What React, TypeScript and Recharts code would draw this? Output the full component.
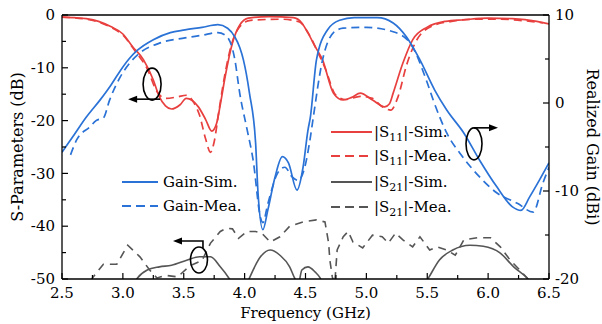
import React from 'react';
import { ComposedChart, Line, XAxis, YAxis, Legend, ReferenceDot } from 'recharts';

type Pt = [number, number];

// frequency (GHz), |S11| (dB)
const s11Sim: Pt[] = [
  [2.5, -0.4], [2.6, -0.5], [2.7, -0.7], [2.8, -1.2], [2.9, -2.2], [3.0, -3.6],
  [3.08, -6], [3.17, -8.5], [3.25, -12.3], [3.3, -15.5], [3.35, -17.2], [3.4, -17.8],
  [3.47, -17.0], [3.52, -15.8], [3.57, -16.2], [3.62, -17.4], [3.68, -19.8], [3.73, -22],
  [3.77, -20.5], [3.8, -17], [3.84, -11.7], [3.9, -5.3], [3.96, -1.9], [4.03, -0.6],
  [4.2, -0.3], [4.4, -0.5], [4.47, -1.5], [4.52, -3.4], [4.58, -6], [4.64, -8.5],
  [4.73, -14.8], [4.81, -16.1], [4.88, -15.6], [4.95, -14.8], [5.05, -16.1], [5.15, -17.4],
  [5.19, -16.8], [5.22, -14.8], [5.3, -9.1], [5.38, -4.7], [5.5, -2.3], [5.65, -1.2],
  [5.8, -0.9], [6.0, -0.6], [6.2, -0.7], [6.4, -1.2], [6.5, -1.7],
];

const s11Mea: Pt[] = [
  [2.5, -0.4], [2.7, -0.8], [2.9, -2.3], [3.0, -3.8], [3.1, -6.8], [3.2, -10.2],
  [3.28, -14.5], [3.35, -15.8], [3.45, -15.5], [3.52, -15.2], [3.58, -16.5], [3.63, -19],
  [3.68, -23.5], [3.72, -26], [3.75, -24], [3.79, -18], [3.84, -11], [3.9, -5],
  [3.96, -2.2], [4.05, -1], [4.3, -0.8], [4.45, -1.3], [4.52, -3.3], [4.6, -7],
  [4.66, -10], [4.75, -15.2], [4.83, -16], [4.95, -15.4], [5.05, -15.8], [5.12, -17.2],
  [5.2, -18], [5.26, -15.5], [5.33, -9.5], [5.42, -4.5], [5.55, -2], [5.7, -1.2],
  [5.9, -0.8], [6.1, -0.8], [6.3, -1.1], [6.45, -1.5],
];

// frequency (GHz), |S21| (dB)
const s21Sim: Pt[] = [
  [3.05, -53], [3.12, -49.8], [3.2, -48.3], [3.3, -47.7], [3.4, -47.4], [3.53, -46.4],
  [3.63, -45.8], [3.72, -45.8], [3.8, -47.7], [3.87, -49.8], [3.95, -53], [4.0, -52],
  [4.04, -49.8], [4.13, -45.8], [4.21, -44.5], [4.29, -45.5], [4.37, -47.7], [4.41, -49.8],
  [4.44, -51], [4.47, -48.3], [4.52, -47.7], [4.58, -48.7], [4.62, -49.8], [4.66, -52],
  [5.0, -58], [5.45, -52], [5.51, -49.8], [5.6, -46.4], [5.71, -44.5], [5.85, -43.6],
  [5.96, -43.8], [6.1, -45.1], [6.21, -47.7], [6.32, -49.8], [6.4, -52],
];

const s21Mea: Pt[] = [
  [2.7, -53], [2.75, -49.8], [2.84, -47.2], [2.95, -47.2], [3.04, -43.6], [3.14, -45.8],
  [3.22, -48.3], [3.28, -49.8], [3.35, -49.3], [3.45, -49.6], [3.55, -47.5], [3.65, -46.5],
  [3.72, -43.2], [3.8, -41], [3.85, -40.4], [3.9, -40.5], [3.95, -42.3], [4.02, -41],
  [4.09, -41], [4.14, -41.3], [4.21, -43], [4.29, -42], [4.37, -40], [4.48, -39.2],
  [4.59, -38.8], [4.66, -39.2], [4.69, -43.2], [4.7, -46.4], [4.72, -49.6], [4.74, -51],
  [4.76, -44.5], [4.81, -42], [4.85, -41], [4.89, -43], [4.97, -44.1], [5.05, -41.7],
  [5.13, -42], [5.18, -43.2], [5.24, -41.3], [5.3, -42.6], [5.38, -43.9], [5.44, -42],
  [5.52, -44.5], [5.58, -43.9], [5.66, -44.5], [5.73, -45.5], [5.8, -42.6], [5.91, -42.2],
  [6.02, -42.2], [6.1, -43.9], [6.18, -46.4], [6.26, -48.3], [6.32, -49.8], [6.36, -52],
];

// frequency (GHz), realized gain (dBi)
const gainSim: Pt[] = [
  [2.5, -5.6], [2.6, -3.6], [2.7, -1.6], [2.81, 0.3], [2.9, 2.0], [2.98, 3.7],
  [3.05, 5.0], [3.12, 6.0], [3.25, 7.2], [3.39, 8.0], [3.51, 8.3], [3.65, 8.6],
  [3.78, 8.9], [3.86, 8.5], [3.92, 7.5], [3.96, 6.3], [3.99, 4.9], [4.04, 1.1],
  [4.09, -4.5], [4.11, -10.2], [4.15, -14.4], [4.19, -12.2], [4.25, -8.4], [4.31, -6.1],
  [4.36, -6.8], [4.43, -9.9], [4.48, -7.3], [4.52, -3.1], [4.54, -1.6], [4.59, 4.9],
  [4.68, 8.3], [4.78, 9.4], [4.9, 9.7], [5.09, 9.7], [5.22, 9.1], [5.33, 7.5],
  [5.44, 4.9], [5.56, 1.5], [5.66, -0.8], [5.8, -3.4], [5.93, -6.5], [6.07, -9.5],
  [6.2, -11.8], [6.27, -12.2], [6.34, -10.7], [6.42, -8.8], [6.5, -6.8],
];

const gainMea: Pt[] = [
  [2.57, -5.9], [2.62, -4.2], [2.73, -2.7], [2.78, -2.0], [2.84, -1.7], [2.89, 0.3],
  [2.98, 3.0], [3.06, 4.6], [3.14, 5.7], [3.3, 6.8], [3.51, 7.4], [3.65, 7.7],
  [3.78, 8.0], [3.85, 7.6], [3.92, 4.9], [3.96, 1.1], [4.02, -3], [4.07, -6.5],
  [4.13, -13], [4.15, -13.6], [4.19, -11.5], [4.27, -8.0], [4.33, -7.3], [4.39, -8.4],
  [4.44, -8.8], [4.49, -7.5], [4.54, -3.9], [4.56, -2], [4.64, 4.9], [4.73, 8.0],
  [4.81, 8.5], [5.0, 8.6], [5.22, 8.1], [5.36, 6.8], [5.5, 2.3], [5.55, 0.3],
  [5.66, -3.4], [5.79, -6.1], [5.93, -8.4], [6.07, -10.2], [6.24, -11.4], [6.37, -12.4],
  [6.45, -9.1], [6.5, -7.3],
];

const freqTicks = [2.5, 2.75, 3, 3.25, 3.5, 3.75, 4, 4.25, 4.5, 4.75, 5, 5.25, 5.5, 5.75, 6, 6.25, 6.5];
const sTicks = [-50, -45, -40, -35, -30, -25, -20, -15, -10, -5, 0];
const gainTicks = [-20, -15, -10, -5, 0, 5, 10];

const RED = '#e8403f';
const BLUE = '#2a72d6';
const GRAY = '#555555';
const FONT = '"DejaVu Serif", "Liberation Serif", "Times New Roman", Times, serif';

const toRows = (pts: Pt[], key: string) => pts.map(([f, v]) => ({ f, [key]: v }));

const isMajorF = (v: number) => Math.abs(v * 2 - Math.round(v * 2)) < 1e-6;

const BottomTick = (p: any) => {
  const v = p.payload.value;
  const major = isMajorF(v);
  const ay = p.y - 8;
  return (
    <g>
      <line x1={p.x} x2={p.x} y1={ay} y2={ay - (major ? 6 : 4)} stroke="#000" strokeWidth={1.2} />
      {major && (
        <text x={p.x} y={p.y} dy="0.75em" textAnchor="middle" fontSize={15} style={{ fontFamily: FONT }} fill="#000">
          {v.toFixed(1)}
        </text>
      )}
    </g>
  );
};

const TopTick = (p: any) => {
  const major = isMajorF(p.payload.value);
  const ay = p.y;
  return <line x1={p.x} x2={p.x} y1={ay} y2={ay + (major ? 6 : 4)} stroke="#000" strokeWidth={1.2} />;
};

const LeftTick = (p: any) => {
  const v = p.payload.value;
  const major = v % 10 === 0;
  const ax = p.x + 7;
  return (
    <g>
      <line x1={ax} x2={ax + (major ? 6 : 4)} y1={p.y} y2={p.y} stroke="#000" strokeWidth={1.2} />
      {major && (
        <text x={p.x} y={p.y} dy="0.35em" textAnchor="end" fontSize={15} style={{ fontFamily: FONT }} fill="#000">
          {v}
        </text>
      )}
    </g>
  );
};

const RightTick = (p: any) => {
  const v = p.payload.value;
  const major = v % 10 === 0;
  const ax = p.x - 6;
  return (
    <g>
      <line x1={ax} x2={ax - (major ? 6 : 4)} y1={p.y} y2={p.y} stroke="#000" strokeWidth={1.2} />
      {major && (
        <text x={p.x} y={p.y} dy="0.35em" textAnchor="start" fontSize={15} style={{ fontFamily: FONT }} fill="#000">
          {v}
        </text>
      )}
    </g>
  );
};

const ArrowHead = ({ x, y, dir }: { x: number; y: number; dir: number }) => (
  <path d={`M${x},${y} L${x - dir * 9},${y - 3.5} L${x - dir * 9},${y + 3.5} Z`} fill="#000" />
);

// ellipse marker with an arrow pointing at the axis it refers to
const Marker = (p: any) => {
  const { cx, cy, rx, ry, path, tip, dir } = p;
  return (
    <g>
      <ellipse cx={cx} cy={cy} rx={rx} ry={ry} fill="none" stroke="#000" strokeWidth={1.6} />
      <path d={path(cx, cy)} fill="none" stroke="#000" strokeWidth={1.6} />
      <ArrowHead x={cx + tip[0]} y={cy + tip[1]} dir={dir} />
    </g>
  );
};

const legendItems = [
  { key: 'gainSim', left: 122, top: 182, len: 36, gap: 5, dashed: false, text: 'Gain-Sim.' },
  { key: 'gainMea', left: 122, top: 206, len: 36, gap: 5, dashed: true, text: 'Gain-Mea.' },
  { key: 's11Sim', left: 331, top: 132, len: 41, gap: 2, dashed: false, sub: '11', text: '-Sim.' },
  { key: 's11Mea', left: 331, top: 156, len: 41, gap: 2, dashed: true, sub: '11', text: '-Mea.' },
  { key: 's21Sim', left: 331, top: 182, len: 41, gap: 2, dashed: false, sub: '21', text: '-Sim.' },
  { key: 's21Mea', left: 331, top: 207, len: 41, gap: 2, dashed: true, sub: '21', text: '-Mea.' },
];

const renderLegend = (props: any) => {
  const payload = props.payload || [];
  return (
    <div style={{ position: 'relative', width: 602, height: 324 }}>
      {legendItems.map((it) => {
        const entry = payload.find((e: any) => e.dataKey === it.key);
        const color = entry ? entry.color : '#000';
        return (
          <div
            key={it.key}
            style={{
              position: 'absolute', left: it.left, top: it.top - 11, height: 22,
              display: 'flex', alignItems: 'center', whiteSpace: 'nowrap',
              fontFamily: FONT, fontSize: 15, color: '#000',
            }}
          >
            <svg width={it.len} height={22} style={{ marginRight: it.gap }}>
              <line x1={0} x2={it.len} y1={11} y2={11} stroke={color} strokeWidth={1.8}
                strokeDasharray={it.dashed ? '9 5' : undefined} />
            </svg>
            {it.sub ? (
              <span>
                |S<span style={{ fontSize: 11, position: 'relative', top: 4 }}>{it.sub}</span>|{it.text}
              </span>
            ) : (
              <span>{it.text}</span>
            )}
          </div>
        );
      })}
    </div>
  );
};

export default function App() {
  return (
    <div style={{ position: 'absolute', left: 0, top: 0, background: '#fff', fontFamily: FONT }}>
      <ComposedChart width={602} height={324} margin={{ top: 0, right: 0, bottom: 0, left: 0 }}>
        <XAxis
          xAxisId="b" dataKey="f" type="number" domain={[2.5, 6.5]} ticks={freqTicks} interval={0}
          allowDataOverflow height={45} tickSize={0} tickMargin={8} tick={BottomTick}
          axisLine={{ stroke: '#000', strokeWidth: 1.3 }}
          label={(p: any) => (
            <text x={p.viewBox.x + p.viewBox.width / 2} y={318} textAnchor="middle" fontSize={15}
              style={{ fontFamily: FONT }} fill="#000">
              Frequency (GHz)
            </text>
          )}
        />
        <XAxis
          xAxisId="t" orientation="top" type="number" domain={[2.5, 6.5]} ticks={freqTicks} interval={0}
          allowDataOverflow height={15} tickSize={0} tickMargin={0} tick={TopTick}
          axisLine={{ stroke: '#000', strokeWidth: 1.3 }}
        />
        <YAxis
          yAxisId="s" type="number" domain={[-50, 0]} ticks={sTicks} interval={0} allowDataOverflow
          width={62} tickSize={0} tickMargin={7} tick={LeftTick}
          axisLine={{ stroke: '#000', strokeWidth: 1.3 }}
          label={(p: any) => {
            const cy = p.viewBox.y + p.viewBox.height / 2;
            return (
              <text x={17} y={cy} transform={`rotate(-90 17 ${cy})`} textAnchor="middle" dominantBaseline="central"
                fontSize={16} style={{ fontFamily: FONT }} fill="#000">
                S-Parameters (dB)
              </text>
            );
          }}
        />
        <YAxis
          yAxisId="g" orientation="right" type="number" domain={[-20, 10]} ticks={gainTicks} interval={0}
          allowDataOverflow width={53} tickSize={0} tickMargin={6} tick={RightTick}
          axisLine={{ stroke: '#000', strokeWidth: 1.3 }}
          label={(p: any) => {
            const cy = p.viewBox.y + p.viewBox.height / 2;
            return (
              <text x={592} y={cy} transform={`rotate(90 592 ${cy})`} textAnchor="middle" dominantBaseline="central"
                fontSize={16} style={{ fontFamily: FONT }} fill="#000">
                Realized Gain (dBi)
              </text>
            );
          }}
        />

        <Line xAxisId="b" yAxisId="s" data={toRows(s21Mea, 's21Mea')} dataKey="s21Mea" type="linear"
          stroke={GRAY} strokeWidth={1.6} strokeDasharray="8 6" dot={false} isAnimationActive={false} />
        <Line xAxisId="b" yAxisId="s" data={toRows(s21Sim, 's21Sim')} dataKey="s21Sim" type="monotone"
          stroke={GRAY} strokeWidth={1.6} dot={false} isAnimationActive={false} />
        <Line xAxisId="b" yAxisId="s" data={toRows(s11Mea, 's11Mea')} dataKey="s11Mea" type="monotone"
          stroke={RED} strokeWidth={1.7} strokeDasharray="8 5" dot={false} isAnimationActive={false} />
        <Line xAxisId="b" yAxisId="s" data={toRows(s11Sim, 's11Sim')} dataKey="s11Sim" type="monotone"
          stroke={RED} strokeWidth={1.7} dot={false} isAnimationActive={false} />
        <Line xAxisId="b" yAxisId="g" data={toRows(gainMea, 'gainMea')} dataKey="gainMea" type="monotone"
          stroke={BLUE} strokeWidth={1.7} strokeDasharray="8 5" dot={false} isAnimationActive={false} />
        <Line xAxisId="b" yAxisId="g" data={toRows(gainSim, 'gainSim')} dataKey="gainSim" type="monotone"
          stroke={BLUE} strokeWidth={1.7} dot={false} isAnimationActive={false} />

        <ReferenceDot xAxisId="b" yAxisId="s" x={3.24} y={-13.1}
          shape={(p: any) => (
            <Marker cx={p.cx} cy={p.cy} rx={9} ry={16} dir={-1} tip={[-24, 15]}
              path={(x: number, y: number) => `M${x + 8},${y + 15} L${x - 18},${y + 15}`} />
          )} />
        <ReferenceDot xAxisId="b" yAxisId="s" x={3.625} y={-46.4}
          shape={(p: any) => (
            <Marker cx={p.cx} cy={p.cy} rx={8.5} ry={13} dir={-1} tip={[-26, -19]}
              path={(x: number, y: number) => `M${x + 4},${y - 12} L${x + 4},${y - 19} L${x - 20},${y - 19}`} />
          )} />
        <ReferenceDot xAxisId="b" yAxisId="s" x={5.884} y={-24.4}
          shape={(p: any) => (
            <Marker cx={p.cx} cy={p.cy} rx={8} ry={16} dir={1} tip={[24, -16]}
              path={(x: number, y: number) => `M${x},${y - 16} L${x + 18},${y - 16}`} />
          )} />

        <Legend content={renderLegend} layout="vertical" align="center" verticalAlign="middle"
          wrapperStyle={{ position: 'absolute', left: 0, top: 0, width: 602, height: 324, pointerEvents: 'none' }} />
      </ComposedChart>
    </div>
  );
}
